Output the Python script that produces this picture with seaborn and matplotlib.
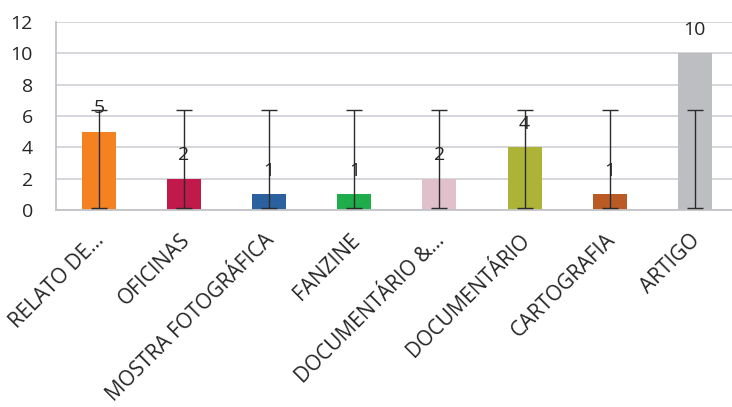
import numpy as np
import pandas as pd
import matplotlib
matplotlib.use("Agg")
import matplotlib.pyplot as plt
import matplotlib.transforms as mtransforms
import seaborn as sns

categories = ["RELATO DE…", "OFICINAS", "MOSTRA FOTOGRÁFICA", "FANZINE",
              "DOCUMENTÁRIO &…", "DOCUMENTÁRIO", "CARTOGRAFIA", "ARTIGO"]
values = [5, 2, 1, 1, 2, 4, 1, 10]
colors = ["#F58220", "#C0194A", "#2A619E", "#1FAD4B",
          "#DFC0CB", "#ADB336", "#BA5B25", "#BDBEC2"]
y_ticks = [0, 2, 4, 6, 8, 10, 12]

sns.set_theme(style="white")
plt.rcParams["font.family"] = ["Open Sans", "DejaVu Sans"]

df = pd.DataFrame({"categoria": categories, "valor": values})

fig = plt.figure(figsize=(7.32, 4.07), dpi=100)
ax = fig.add_axes([56.4 / 732, 1 - 210 / 407, 681 / 732, 188 / 407])

sns.barplot(data=df, x="categoria", y="valor", hue="categoria",
            palette=colors, width=0.4, legend=False, ax=ax,
            saturation=1, errorbar=None, edgecolor="none", linewidth=0,
            zorder=2)

# standard-deviation error bar around the series mean, repeated on every bar
center = np.mean(values)
spread = np.std(values, ddof=1)
x = np.arange(len(categories))
ax.errorbar(x, [center] * len(x), yerr=spread, fmt="none",
            ecolor="#2B2B2B", elinewidth=1.0, capsize=6, capthick=1.0, zorder=4)

for xi, v in zip(x, values):
    ax.annotate(str(v), (xi, v), xytext=(0, 17), textcoords="offset points",
                ha="center", va="center", fontsize=14, color="#262626", zorder=5)

ax.set_ylim(0, 12)
ax.set_xlim(-0.5, len(categories) - 0.5)
ax.set_yticks(y_ticks)
ax.set_yticklabels([str(t) for t in y_ticks], fontsize=14, color="#262626")
ax.tick_params(axis="y", length=0, pad=17)
ax.tick_params(axis="x", length=0, pad=2)
ax.yaxis.grid(True, color="#D0D0D4", linewidth=1.2, zorder=0)
ax.set_axisbelow(True)
ax.set_xlabel("")
ax.set_ylabel("")

ax.set_xticks(x)
ax.set_xticklabels(categories, rotation=45, ha="right", rotation_mode="anchor",
                   fontsize=15, color="#262626")
shift = mtransforms.ScaledTranslation(-5 / 100, -17 / 100, fig.dpi_scale_trans)
for lab in ax.get_xticklabels():
    lab.set_transform(lab.get_transform() + shift)

for side in ["top", "right"]:
    ax.spines[side].set_visible(False)
for side in ["left", "bottom"]:
    ax.spines[side].set_color("#C4C4C8")
    ax.spines[side].set_linewidth(1.3)

fig.savefig("out.png", dpi=100)
